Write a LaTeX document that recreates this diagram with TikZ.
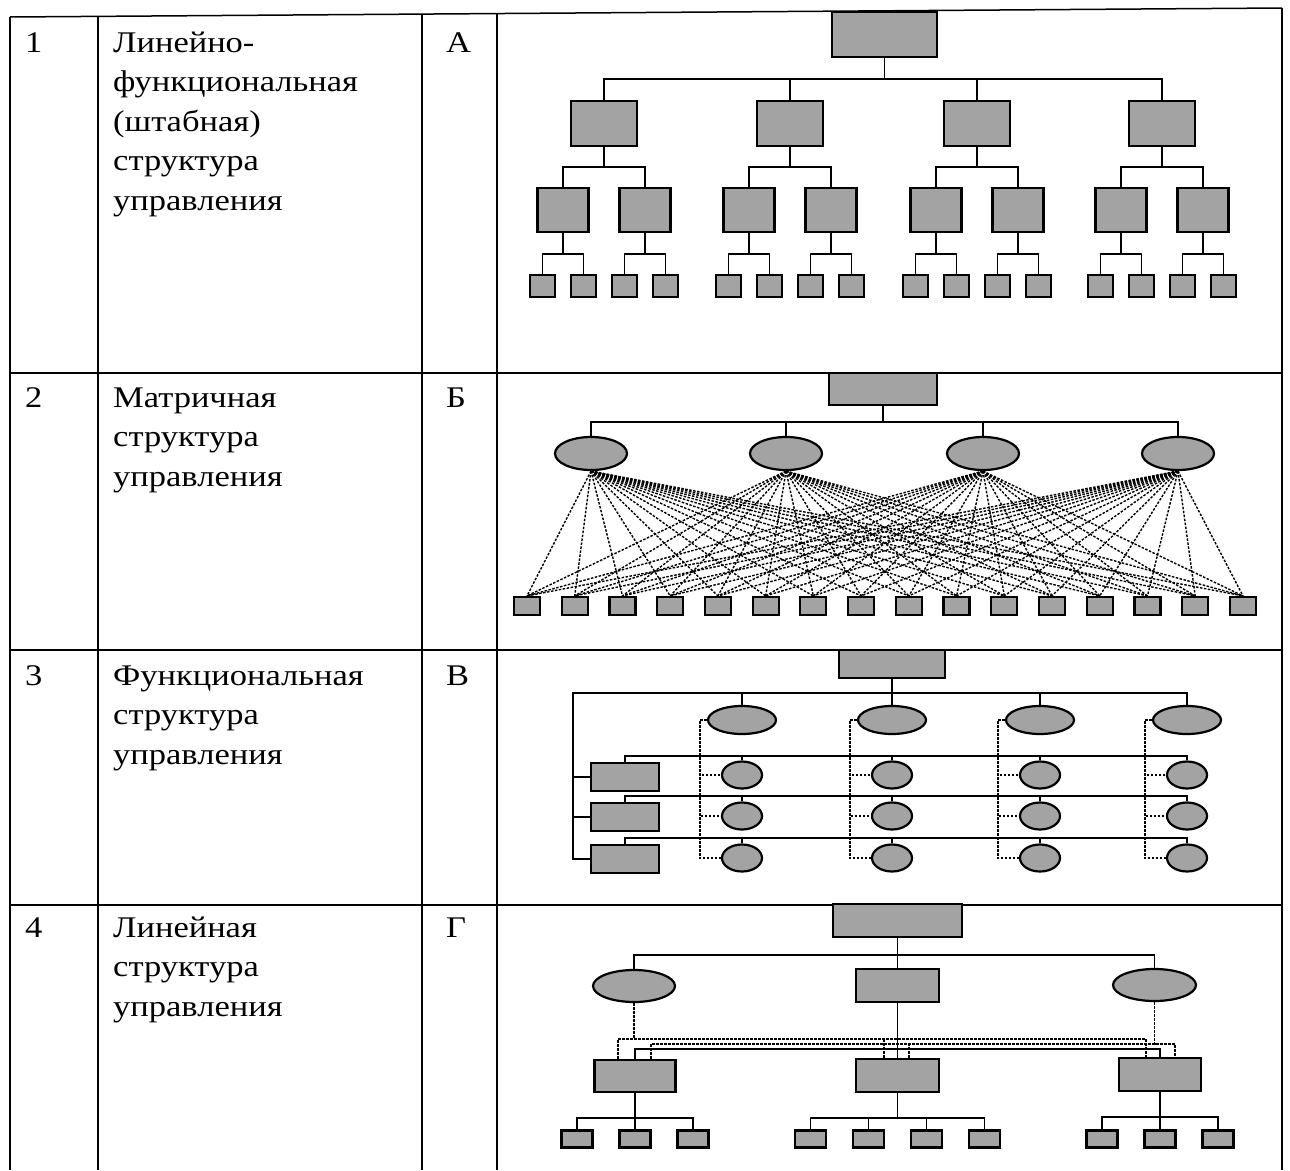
\documentclass[tikz,border=0pt]{standalone}
\usepackage{fontspec}
\setmainfont{Liberation Serif}[FakeStretch=1.15]
\usetikzlibrary{shapes.geometric}
\definecolor{boxgray}{RGB}{163,163,163}
\tikzset{
  box/.style={draw, fill=boxgray, line width=2.2pt, inner sep=0pt},
  oval/.style={ellipse, draw, fill=boxgray, line width=2.2pt, inner sep=0pt},
  link/.style={line width=1.9pt},
  dlink/.style={line width=1.4pt, dash pattern=on 2.5pt off 1.5pt},
  grid/.style={line width=1.5pt},
  txt/.style={anchor=base west, align=left, inner sep=0pt, font=\fontsize{30}{39.5}\selectfont}
}

\begin{document}
\begin{tikzpicture}[x=1pt,y=-1pt]
  \useasboundingbox (0,0) rectangle (1290,1170);
  \draw[grid] (10,17) -- (1282,8);
  \foreach \y in {373,650,905} \draw[grid] (10,\y) -- (1282,\y);
  \foreach \x/\t in {10/17,98/16.4,422/14.1,497/13.6,1282/8} \draw[grid] (\x,\t) -- (\x,1170);

  \node[txt] (n1) at (25,52) {1};
  \node[txt] (t1) at (113,210) {Линейно-\\функциональная\\(штабная)\\структура\\управления};
  \node[txt] (l1) at (446,52) {А};
  \node[txt] (n2) at (25,407) {2};
  \node[txt] (t2) at (113,486) {Матричная\\структура\\управления};
  \node[txt] (l2) at (446,407) {Б};
  \node[txt] (n3) at (25,685) {3};
  \node[txt] (t3) at (113,764) {Функциональная\\структура\\управления};
  \node[txt] (l3) at (446,685) {В};
  \node[txt] (n4) at (25,937) {4};
  \node[txt] (t4) at (113,1016) {Линейная\\структура\\управления};
  \node[txt] (l4) at (446,937) {Г};

  \node[box, minimum width=105, minimum height=45] (a0) at (884.5,34.5) {};
  \foreach \i/\x in {1/604,2/790,3/977,4/1162} {
    \node[box, minimum width=66, minimum height=45] (a\i) at (\x,123.5) {};
    \draw[link] (a0.south) -- ++(0,21) -| (a\i.north);
    \foreach \j in {1,2} {
      \node[box, minimum width=51, minimum height=44] (a\i-\j) at ({\x+(2*\j-3)*41},210) {};
      \draw[link] (a\i.south) -- ++(0,20) -| (a\i-\j.north);
      \foreach \k in {1,2} {
        \node[box, minimum width=25, minimum height=22] (a\i-\j-\k) at ({\x+(2*\j-3)*41+(2*\k-3)*20.5},286) {};
        \draw[link] (a\i-\j.south) -- ++(0,21) -| (a\i-\j-\k.north);
      }
    }
  }

  \node[box, minimum width=108, minimum height=32] (b0) at (883,389) {};
  \foreach \i/\x in {1/591,2/786,3/983,4/1178} {
    \node[oval, minimum width=72, minimum height=33] (b\i) at (\x,453.5) {};
    \draw[link] (b0.south) -- ++(0,16) -| (b\i.north);
  }
  \foreach \k in {1,...,16}
    \node[box, minimum width=26, minimum height=18] (s\k) at ({527+(\k-1)*47.73},606) {};
  \foreach \i in {1,...,4}
    \foreach \k in {1,...,16}
      \draw[dlink] (b\i.south) -- (s\k.north);

  \node[box, minimum width=106, minimum height=28] (v0) at (892,664) {};
  \foreach \j/\y in {1/777,2/817,3/859} {
    \node[box, minimum width=68, minimum height=28] (vr\j) at (625,\y) {};
    \draw[link] (v0.south) -- ++(0,14) -| ([xshift=-17pt]vr\j.west) -- (vr\j.west);
  }
  \foreach \i/\x in {1/742,2/892,3/1040,4/1187} {
    \node[oval, minimum width=68, minimum height=28] (vb\i) at (\x,720) {};
    \draw[link] (v0.south) -- ++(0,14) -| (vb\i.north);
    \foreach \j/\y in {1/775,2/816,3/858} {
      \node[oval, minimum width=40, minimum height=27] (vs\i-\j) at (\x,\y) {};
      \draw[link] (vr\j.north) -- ++(0,-6) -| (vs\i-\j.north);
      \draw[dlink] (vb\i.west) -- ++(-7,0) |- (vs\i-\j.west);
    }
  }

  \node[box, minimum width=129, minimum height=33] (g0) at (897.5,920.5) {};
  \node[oval, minimum width=82, minimum height=32] (gl) at (634,986) {};
  \node[box, minimum width=83, minimum height=33] (gm) at (897.5,985.5) {};
  \node[oval, minimum width=83, minimum height=32] (gr) at (1154.5,985) {};
  \draw[link] (g0.south) -- ++(0,17) -| (gl.north);
  \draw[link] (g0.south) -- ++(0,17) -| (gr.north);
  \draw[link] (g0.south) -- (gm.north);
  \node[box, minimum width=81, minimum height=32] (g1) at (635,1076) {};
  \node[box, minimum width=83, minimum height=33] (g2) at (897.5,1075.5) {};
  \node[box, minimum width=82, minimum height=33] (g3) at (1160,1074.5) {};
  \draw[link] (gm.south) -- (g2.north);
  \draw[link] (g1.north) -- ++(0,-10) -| (g3.north);
  \draw[dlink] (gl.south) -- ++(0,36) coordinate (da);
  \draw[dlink] ([xshift=-17pt]g1.north) |- (da) -| ([xshift=-14pt]g3.north);
  \draw[dlink] ([xshift=-13.5pt]g2.north) -- ([xshift=-13.5pt]g2.north |- da);
  \draw[dlink] (gr.south) -- ++(0,42) coordinate (db);
  \draw[dlink] ([xshift=16pt]g1.north) |- (db) -| ([xshift=15pt]g3.north);
  \draw[dlink] ([xshift=11.5pt]g2.north) -- ([xshift=11.5pt]g2.north |- db);
  \foreach \k in {1,2,3} {
    \node[box, minimum width=31, minimum height=17] (g1-\k) at ({635+(\k-2)*58},1139) {};
    \draw[link] (g1.south) -- ++(0,25) -| (g1-\k.north);
    \node[box, minimum width=31, minimum height=17] (g3-\k) at ({1160+(\k-2)*58},1139) {};
    \draw[link] (g3.south) -- ++(0,25) -| (g3-\k.north);
  }
  \foreach \k in {1,...,4} {
    \node[box, minimum width=31, minimum height=17] (g2-\k) at ({897.5+(\k-2.5)*58},1139) {};
    \draw[link] (g2.south) -- ++(0,25) -| (g2-\k.north);
  }
\end{tikzpicture}
\end{document}
